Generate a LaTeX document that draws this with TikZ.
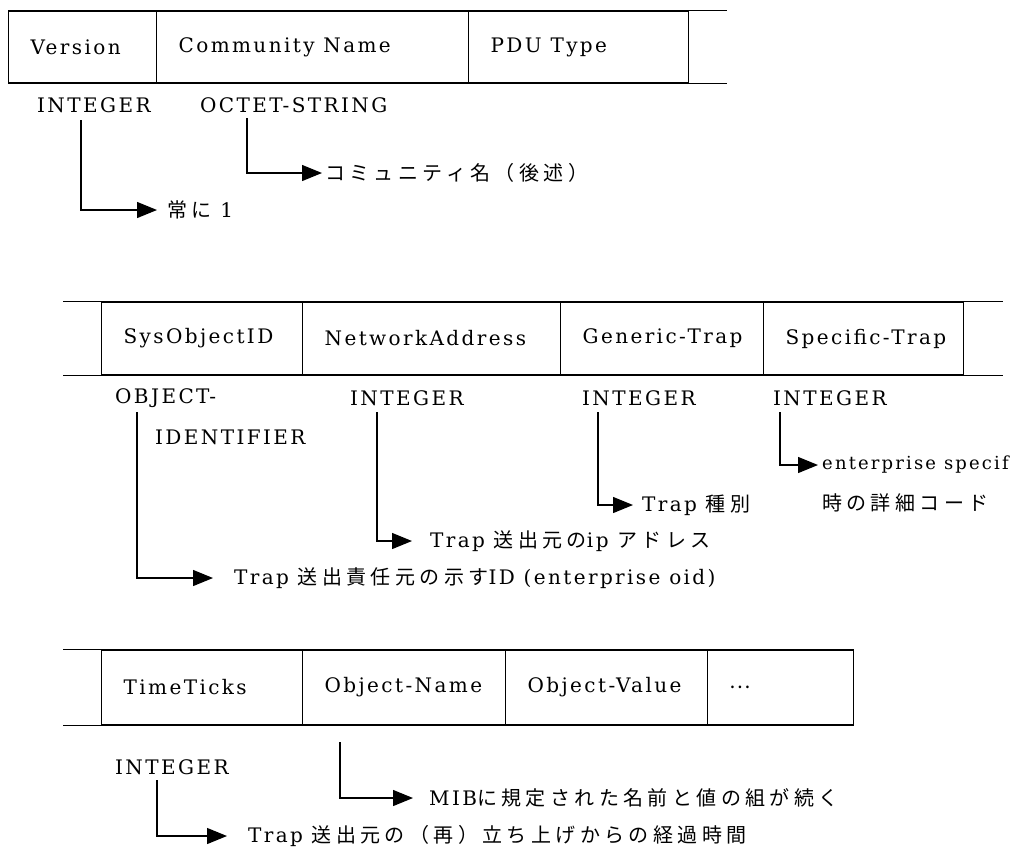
\documentclass[tikz,border=0pt]{standalone}
\usepackage{fontspec}
\setmainfont{DejaVu Serif}[LetterSpace=12]
\newfontfamily\jp{Noto Sans CJK JP}[LetterSpace=22]
\newcommand{\J}[1]{{\jp\fontsize{20}{24}\selectfont #1}}
\newcommand{\cw}[2]{\makebox[#1][l]{#2}}
\usetikzlibrary{arrows.meta}
\begin{document}
\begin{tikzpicture}[x=1pt,y=-1pt,
  every node/.style={font=\fontsize{20}{24}\selectfont},
  cell/.style={draw, line width=1.3pt, inner xsep=22pt, inner ysep=0pt, anchor=west},
  rulel/.style={line width=1.3pt},
  typ/.style={inner sep=0pt, anchor=west},
  lab/.style={inner ysep=0pt, anchor=west},
  arr/.style={line width=1.3pt, -{Triangle[length=20pt,width=16pt]}}]
\useasboundingbox[fill=white] (0,0) rectangle (1024,852);

% ---- top table ----
\begin{scope}[every node/.append style={minimum height=72pt}]
\node[cell] (c1) at (8,47) {\cw{104pt}{Version}};
\node[cell] (c2) at (156,47) {\cw{268pt}{Community Name}};
\node[cell] (c3) at (468,47) {\cw{176pt}{PDU Type}};
\end{scope}
\draw[rulel] (c3.north east) -- ++(38,0);
\draw[rulel] (c3.south east) -- ++(38,0);

\node[typ] (t1) at (37,105) {INTEGER};
\node[typ] (t2) at (200,105) {OCTET-STRING};

\coordinate (s1) at (81,120);
\node[lab, inner xsep=10pt] (l1) at (157,210) {\J{常に} 1};
\draw[arr] (s1) |- (l1.west);

\coordinate (s2) at (247,118);
\node[lab, inner xsep=3pt] (l2) at (322,173) {\J{コミュニティ名（後述）}};
\draw[arr] (s2) |- (l2.west);

% ---- middle table ----
\begin{scope}[every node/.append style={minimum height=73pt}]
\node[cell] (m1) at (101,338.5) {\cw{157pt}{SysObjectID}};
\node[cell] (m2) at (302,338.5) {\cw{214pt}{NetworkAddress}};
\node[cell] (m3) at (560,338.5) {\cw{159pt}{Generic-Trap}};
\node[cell] (m4) at (763,338.5) {\cw{156pt}{Specific-Trap}};
\end{scope}
\draw[rulel] (m1.north west) -- ++(-38,0);
\draw[rulel] (m1.south west) -- ++(-38,0);
\draw[rulel] (m4.north east) -- ++(39,0);
\draw[rulel] (m4.south east) -- ++(39,0);

\node[typ] (t3) at (115,398) {OBJECT-};
\node[typ] (t3b) at (155,437) {IDENTIFIER};
\node[typ] (t4) at (350,398) {INTEGER};
\node[typ] (t5) at (582,398) {INTEGER};
\node[typ] (t6) at (773,398) {INTEGER};

\coordinate (s3) at (137,412);
\node[lab, inner xsep=21pt] (l3) at (213,578) {Trap \J{送出責任元の示す}ID (enterprise oid)};
\draw[arr] (s3) |- (l3.west);

\coordinate (s4) at (377,412);
\node[lab, inner xsep=18pt] (l4) at (412,541) {Trap \J{送出元の}ip \J{アドレス}};
\draw[arr] (s4) |- (l4.west);

\coordinate (s5) at (598,412);
\node[lab, inner xsep=9pt] (l5) at (633,505) {Trap \J{種別}};
\draw[arr] (s5) |- (l5.west);

\coordinate (s6) at (780,412);
\node[lab, inner xsep=4pt, font=\fontsize{18}{22}\selectfont] (l6) at (818,465) {enterprise specif};
\node[typ] (l6b) at (822,503) {\J{時の詳細コード}};
\draw[arr] (s6) |- (l6.west);

% ---- bottom table ----
\begin{scope}[every node/.append style={minimum height=75pt}]
\node[cell] (b1) at (101,687.5) {\cw{157pt}{TimeTicks}};
\node[cell] (b2) at (302,687.5) {\cw{159pt}{Object-Name}};
\node[cell] (b3) at (505,687.5) {\cw{158pt}{Object-Value}};
\node[cell] (b4) at (707,687.5) {\cw{102pt}{\J{…}}};
\end{scope}
\draw[rulel] (b1.north west) -- ++(-38,0);
\draw[rulel] (b1.south west) -- ++(-38,0);

\node[typ] (t7) at (115,767) {INTEGER};

\coordinate (s7) at (340,742);
\node[lab, inner xsep=16pt] (l7) at (413,798) {MIB\J{に規定された名前と値の組が続く}};
\draw[arr] (s7) |- (l7.west);

\coordinate (s8) at (157,780);
\node[lab, inner xsep=21pt] (l8) at (227,836) {Trap \J{送出元の（再）立ち上げからの経過時間}};
\draw[arr] (s8) |- (l8.west);
\end{tikzpicture}
\end{document}
